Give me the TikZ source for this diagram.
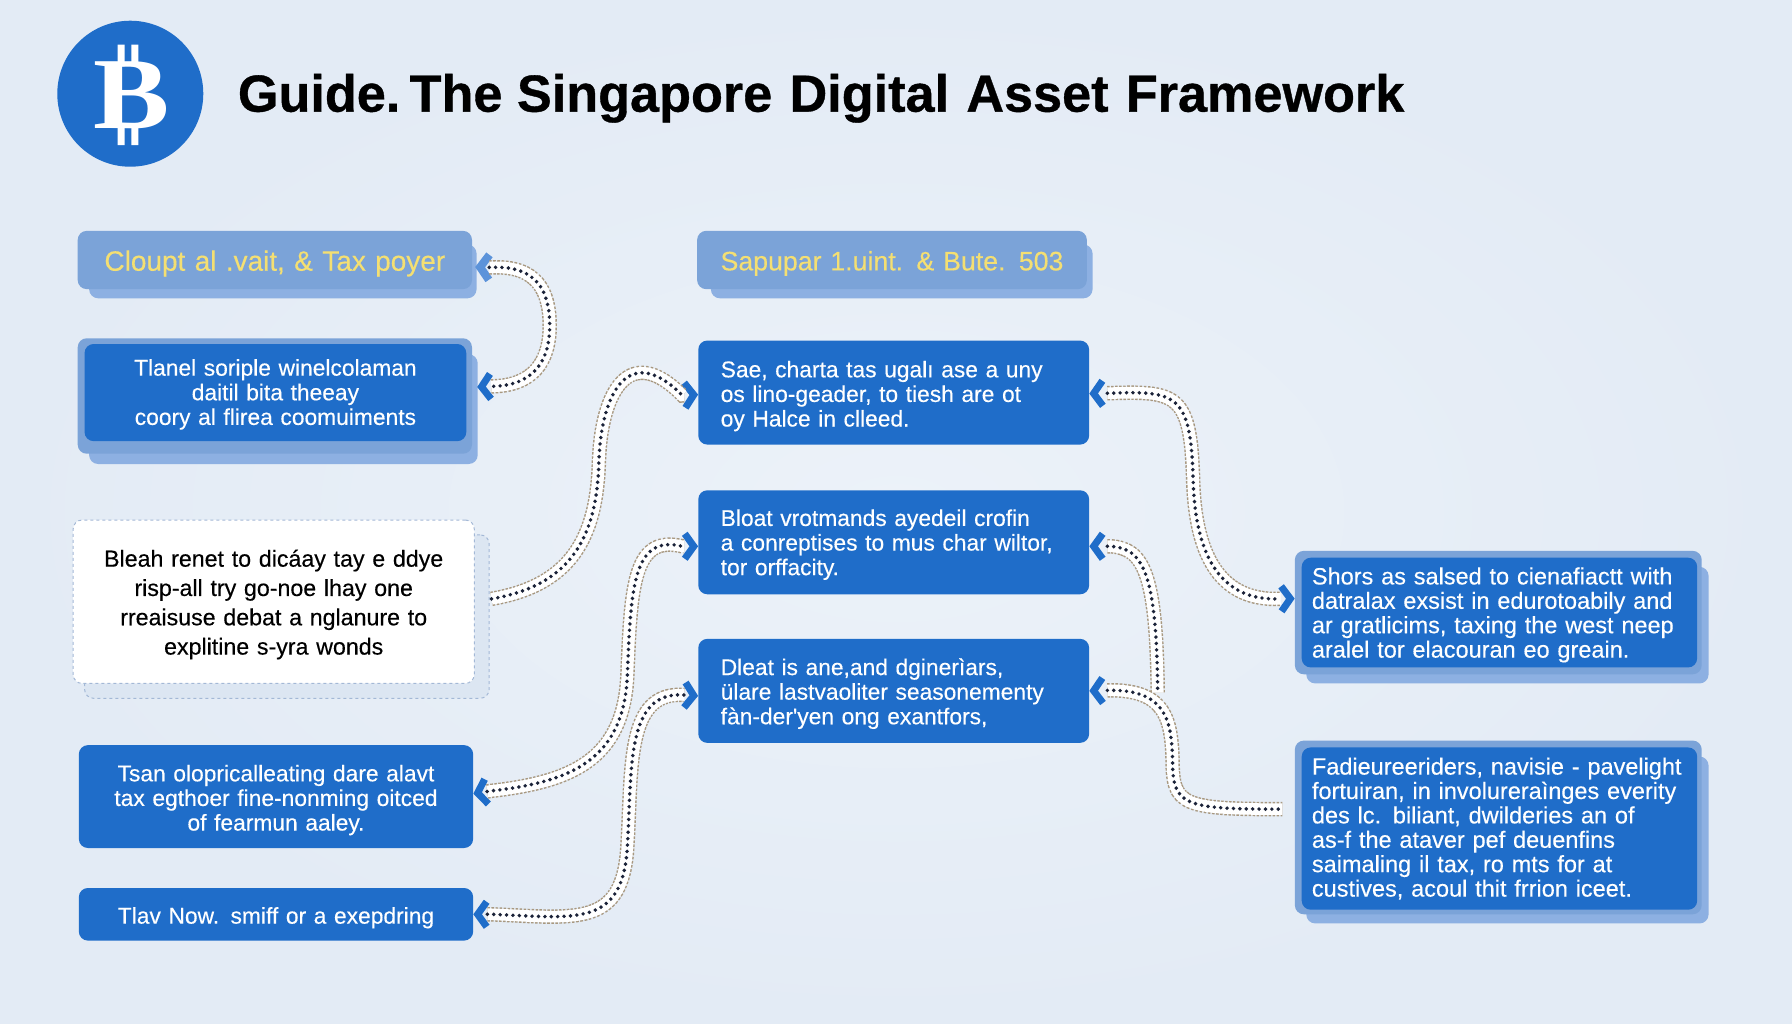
\documentclass[tikz,border=0pt]{standalone}
\usepackage{fontspec}
\setmainfont{Liberation Sans}
\newfontfamily\serifbf{Liberation Serif}
\newfontfamily\bodyf[FakeBold=0.3]{Liberation Sans}
\newfontfamily\titlef[BoldFeatures={FakeBold=0.7}]{Liberation Sans}
\usetikzlibrary{arrows.meta}
\definecolor{pagee}{HTML}{E3EBF5}
\definecolor{pagei}{HTML}{ECF2F9}
\definecolor{mainblue}{HTML}{1F6DC9}
\definecolor{headblue}{HTML}{7BA3D8}
\definecolor{backblue}{HTML}{8DB0E2}
\definecolor{titleyel}{HTML}{F4DF72}
\definecolor{bandtan}{HTML}{A89880}
\definecolor{dotink}{HTML}{1A2238}
\definecolor{paleback}{HTML}{DCE6F2}
\definecolor{dashblue}{HTML}{A3B8D6}
\definecolor{tiplight}{HTML}{5C93DA}
\newcommand{\panel}[7][]{%
  \pgfmathsetmacro\mycx{(#3+#5)/2}\pgfmathsetmacro\mycy{(#4+#6)/2}%
  \pgfmathsetmacro\mypw{(#5-#3)*1.142857}\pgfmathsetmacro\myph{(#6-#4)*1.142857}%
  \node[inner sep=0pt,rounded corners=9pt,minimum width=\mypw pt,minimum height=\myph pt,#1](#2) at (\mycx,\mycy){#7};}
\tikzset{
  darktip/.tip={Straight Barb[length=9pt,width=25pt,line width=7pt,color=mainblue]},
  lighttip/.tip={Straight Barb[length=9pt,width=25pt,line width=8pt,color=tiplight]},
  conn/.style n args={4}{
    preaction={draw,line width=.1pt,dash pattern=on 0pt off 5000pt,line cap=butt,arrows={#1-#2},shorten <=0pt,shorten >=0pt},
    preaction={draw=bandtan,line width=14.5pt,dash pattern=on 2.5pt off 1.5pt,line cap=butt,arrows=-,shorten <=#3,shorten >=#4},
    preaction={draw=white,line width=11.6pt,solid,line cap=butt,arrows=-,shorten <=#3,shorten >=#4},
    draw=dotink,line width=3.9pt,line cap=round,dash pattern=on 0pt off 6.4pt,arrows=-,shorten <=#3,shorten >=#4},
  nudge/.style={execute at begin node={\leavevmode\rule{0pt}{\dimexpr.73em+#1\relax}}},
  solidbox/.style={fill=mainblue,text=white},
  headbox/.style={fill=headblue,text=titleyel,align=center,text width=380pt,nudge=6.8pt,font=\fontsize{28}{32}\bodyf\selectfont},
  backbox/.style={fill=backblue},
  bodycent/.style={align=center,font=\fontsize{22.8}{24.6}\bodyf\selectfont,text width=376pt},
  bodyleft/.style={align=left,font=\fontsize{22.8}{24.6}\bodyf\selectfont,text width=346pt},
  bodyright/.style={align=left,font=\fontsize{23.5}{24.4}\bodyf\selectfont,text width=375pt},
}
\begin{document}
\begin{tikzpicture}[x=1.142857pt,y=-1.142857pt]
\useasboundingbox (0,0) rectangle (1568,896);
\shade[inner color=pagei,outer color=pagee] (0,0) rectangle (1568,896);
% logo
\node[circle,fill=mainblue,minimum size=146pt,inner sep=0pt] (logo) at (114,82) {};
\node[text=white,font=\fontsize{102}{102}\serifbf\bfseries,xscale=1.12,inner sep=0pt] (logoB) at (115,83) {B};
\fill[white] (103,39) rectangle (109,58) (115,39) rectangle (121,58) (103,108) rectangle (109,127) (115,108) rectangle (121,127);
\node[anchor=west,inner sep=0pt,font=\fontsize{52.2}{56}\titlef\bfseries\selectfont,text=black] (title) at (208,86) {Guide.\hspace{-10pt} The Singapore\hspace{2.8pt} Digital\hspace{2.8pt} Asset\hspace{2.8pt} Framework};
% left column
\panel[backbox]{As}{78}{214}{417}{261}{}
\panel[headbox]{A}{68}{202}{413}{253}{Cloupt al .vait, \& Tax poyer}
\panel[backbox]{Bs}{78}{310}{418}{406}{}
\panel[fill=headblue]{Bo}{68}{296}{413}{397}{}
\panel[solidbox,bodycent,nudge=3.5pt]{B}{74}{301}{408}{386}{Tlanel soriple winelcolaman\\daitil bita theeay\\coory al flirea coomuiments}
\panel[fill=paleback,draw=dashblue,dashed,line width=1pt]{Cs}{74}{468}{428}{611}{}
\panel[fill=white,draw=dashblue,dashed,line width=1pt,align=center,text=black,font=\fontsize{23.2}{29.3}\bodyf\selectfont,text width=390pt,nudge=5.7pt]{C}{64}{455}{415}{598}{Bleah renet to dicáay tay e ddye\\risp-all try go-noe lhay one\\rreaisuse debat a nglanure to\\explitine s-yra wonds}
\panel[solidbox,bodycent,nudge=6.8pt]{D}{69}{652}{414}{742}{Tsan olopricalleating dare alavt\\tax egthoer fine-nonming oitced\\of fearmun aaley.}
\panel[solidbox,bodycent,nudge=6.8pt]{E}{69}{777}{414}{823}{Tlav Now. smiff or a exepdring}
% middle column
\panel[backbox]{Fs}{622}{214}{956}{261}{}
\panel[headbox,font=\fontsize{26.7}{32}\bodyf\selectfont]{F}{610}{202}{951}{253}{Sapupar 1.uint. \& Bute. 503}
\panel[solidbox,bodyleft,nudge=6.8pt]{G}{611}{298}{953}{389}{Sae, charta tas ugalı ase a uny\\os lino-geader, to tiesh are ot\\oy Halce in clleed.}
\panel[solidbox,bodyleft,nudge=4.6pt]{H}{611}{429}{953}{520}{Bloat vrotmands ayedeil crofin\\a conreptises to mus char wiltor,\\tor orffacity.}
\panel[solidbox,bodyleft,nudge=5.7pt]{I}{611}{559}{953}{650}{Dleat is ane,and dginerìars,\\ülare lastvaoliter seasonementy\\fàn-der'yen ong exantfors,}
% right column
\panel[backbox]{Js}{1143}{496}{1495}{598}{}
\panel[fill=headblue]{Jo}{1133}{482}{1489}{590}{}
\panel[solidbox,bodyright,nudge=4.6pt]{J}{1139}{488}{1485}{584}{Shors as salsed to cienafiactt with\\datralax exsist in edurotoabily and\\ar gratlicims, taxing the west neep\\aralel tor elacouran eo greain.}
\panel[backbox]{Ks}{1143}{662}{1495}{808}{}
\panel[fill=headblue]{Ko}{1133}{648}{1489}{800}{}
\panel[solidbox,bodyright]{K}{1139}{654}{1485}{796}{Fadieureeriders, navisie - pavelight\\fortuiran, in involureraìnges everity\\des lc. biliant, dwilderies an of\\as-f the ataver pef deuenfins\\saimaling il tax, ro mts for at\\custives, acoul thit frrion iceet.}
% free ends
\coordinate (Kin) at (1122,708);
\coordinate (Hjoin) at (1013,606);
% connectors
\draw[conn={lighttip}{darktip}{14pt}{14pt}] ([xshift=3pt,yshift=-7pt]A.east) -- (430,234) .. controls (470,232) and (481,255) .. (481,285) .. controls (481,318) and (465,337) .. (432,338) -- ([xshift=5pt,yshift=9pt]Bo.east);
\draw[conn={}{darktip}{17pt}{14pt}] (C.east) .. controls (500,512) and (522,470) .. (524,405) .. controls (526,340) and (552,300) .. (597,346) -- ([yshift=-2pt]G.west);
\draw[conn={darktip}{darktip}{14pt}{14pt}] ([yshift=3pt]D.east) -- (430,692) .. controls (500,684) and (546,665) .. (549,590) .. controls (552,510) and (555,468) .. (597,478) -- ([yshift=-4pt]H.west);
\draw[conn={darktip}{darktip}{14pt}{14pt}] (E.east) -- (430,800) .. controls (505,803) and (545,812) .. (549,740) .. controls (553,670) and (548,606) .. (597,608) -- ([yshift=-5pt]I.west);
\draw[conn={darktip}{darktip}{18pt}{14pt}] ([yshift=-1pt]G.east) -- (972,344) .. controls (1030,342) and (1042,345) .. (1044,420) .. controls (1046,490) and (1070,526) .. (1120,524) -- ([yshift=14pt]Jo.west);
\draw[conn={darktip}{}{18pt}{0pt}] ([yshift=-4pt]H.east) -- (972,478) .. controls (1000,480) and (1012,500) .. (Hjoin);
\draw[conn={darktip}{}{18pt}{0pt}] (I.east) -- (972,604) .. controls (1020,604) and (1025,630) .. (1026,665) .. controls (1026,705) and (1035,708) .. (Kin);
\end{tikzpicture}
\end{document}
